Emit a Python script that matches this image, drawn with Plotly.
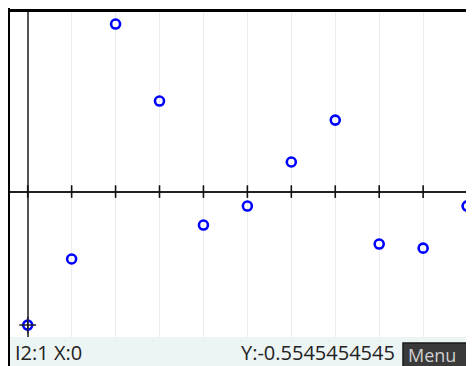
import plotly.graph_objects as go

# stat data (x = lag, y = value)
x_vals = [0, 1, 2, 3, 4, 5, 6, 7, 8, 9, 10]
y_vals = [-0.5545454545, -0.280, 0.696, 0.376, -0.139, -0.060, 0.123, 0.297, -0.218, -0.235, -0.060]
cursor_idx = 0
status_left = "I2:1 X:0"
status_right = "Y:-0.5545454545"

fig = go.Figure()

# tick marks on the x axis
fig.add_trace(go.Scatter(
    x=x_vals, y=[0] * len(x_vals), mode="markers",
    marker=dict(symbol="line-ns", size=9, line=dict(color="#111", width=1.6)),
    hoverinfo="skip", showlegend=False,
))

fig.add_trace(go.Scatter(
    x=x_vals, y=y_vals, mode="markers",
    marker=dict(symbol="circle-open", size=9, color="#0000ff", line=dict(width=2.6)),
    showlegend=False,
))

# cursor crosshair
fig.add_trace(go.Scatter(
    x=[x_vals[cursor_idx]], y=[y_vals[cursor_idx]], mode="markers",
    marker=dict(symbol="cross-thin", size=12, line=dict(color="#222", width=1.5)),
    hoverinfo="skip", showlegend=False,
))

fig.update_xaxes(
    range=[-0.403, 10.34], dtick=1, showgrid=True, gridcolor="#ececec", gridwidth=1,
    zeroline=True, zerolinecolor="#555", zerolinewidth=2,
    showticklabels=False, ticks="", showline=False, fixedrange=True,
)
fig.update_yaxes(
    range=[-0.604, 0.746], showgrid=False,
    zeroline=True, zerolinecolor="#222", zerolinewidth=2,
    showticklabels=False, ticks="", showline=False, fixedrange=True,
)

shapes = [
    # status bar
    dict(type="rect", xref="paper", yref="paper", ysizemode="pixel", yanchor=0,
         x0=0, x1=1.01, y0=-40, y1=0, fillcolor="#edf4f4", line=dict(width=0), layer="above"),
    # menu button
    dict(type="rect", xref="paper", yref="paper", xsizemode="pixel", xanchor=1,
         ysizemode="pixel", yanchor=0, x0=-79, x1=4, y0=-40, y1=-6,
         fillcolor="#3a3a3a", line=dict(color="#1a1a1a", width=1.5), layer="above"),
    # left border
    dict(type="rect", xref="paper", yref="paper", xsizemode="pixel", xanchor=0,
         x0=-2.5, x1=0, y0=-0.2, y1=1.02, fillcolor="#000", line=dict(width=0), layer="above"),
    # top border
    dict(type="rect", xref="paper", yref="paper", ysizemode="pixel", yanchor=1,
         x0=-0.02, x1=1.02, y0=0, y1=3, fillcolor="#000", line=dict(width=0), layer="above"),
]

annotations = [
    dict(text=status_left, xref="paper", yref="paper", x=0.0064, y=0, yshift=-15,
         xanchor="left", yanchor="middle", showarrow=False,
         font=dict(family="Open Sans", size=20, color="#222")),
    dict(text=status_right, xref="paper", yref="paper", x=0.820, y=0, yshift=-15,
         xanchor="right", yanchor="middle", showarrow=False,
         font=dict(family="Open Sans", size=20, color="#222")),
    dict(text="Menu", xref="paper", yref="paper", x=0.894, y=0, yshift=-18,
         xanchor="center", yanchor="middle", showarrow=False,
         font=dict(family="Open Sans", size=18, color="#cfcfcf")),
]

fig.update_layout(
    width=474, height=366,
    margin=dict(l=2, r=0, t=4, b=37),
    paper_bgcolor="white", plot_bgcolor="white",
    shapes=shapes, annotations=annotations,
)

# the calculator screen runs past the window edge; hide the scrollbars
fig.write_html(
    "out.html",
    post_script="document.documentElement.style.overflow='hidden';document.body.style.overflow='hidden';",
)
